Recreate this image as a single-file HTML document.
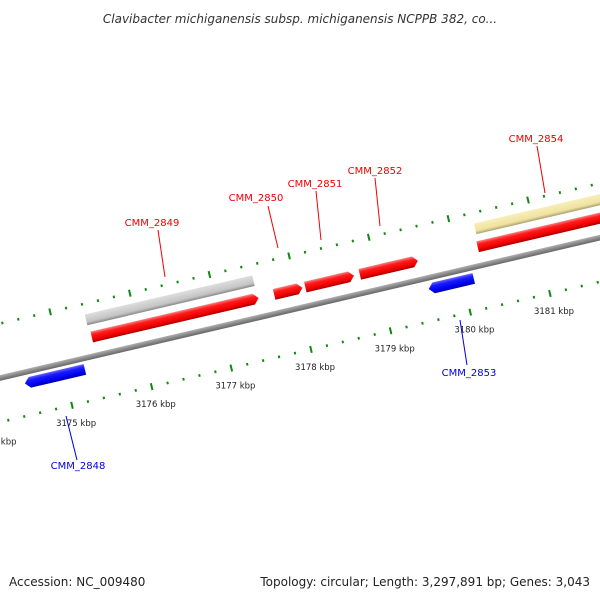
<!DOCTYPE html>
<html><head><meta charset="utf-8"><style>
html,body{margin:0;padding:0;background:#fff;}
svg{display:block;font-family:"DejaVu Sans","Liberation Sans",sans-serif;}
</style></head><body>
<svg id="map" width="600" height="600" viewBox="0 0 600 600" xmlns="http://www.w3.org/2000/svg">
<defs>
<linearGradient id="gRed" x1="0" y1="0" x2="0" y2="1"><stop offset="0" stop-color="#ff8080"/><stop offset="0.3" stop-color="#ff1a1a"/><stop offset="0.75" stop-color="#ee0000"/><stop offset="1" stop-color="#a00000"/></linearGradient>
<linearGradient id="gBlue" x1="0" y1="0" x2="0" y2="1"><stop offset="0" stop-color="#6666ff"/><stop offset="0.3" stop-color="#1a1aff"/><stop offset="0.75" stop-color="#0000ee"/><stop offset="1" stop-color="#0000a0"/></linearGradient>
<linearGradient id="gGray" x1="0" y1="0" x2="0" y2="1"><stop offset="0" stop-color="#dedede"/><stop offset="0.7" stop-color="#c4c4c4"/><stop offset="1" stop-color="#888"/></linearGradient>
<linearGradient id="gYel" x1="0" y1="0" x2="0" y2="1"><stop offset="0" stop-color="#f8eeb8"/><stop offset="0.7" stop-color="#efe2a0"/><stop offset="1" stop-color="#a89f70"/></linearGradient>
<linearGradient id="gBack" x1="0" y1="0" x2="0" y2="1"><stop offset="0" stop-color="#b0b0b0"/><stop offset="0.5" stop-color="#8a8a8a"/><stop offset="1" stop-color="#666"/></linearGradient>
</defs>
<text x="300" y="23" text-anchor="middle" font-size="12" font-style="italic" fill="#333">Clavibacter michiganensis subsp. michiganensis NCPPB 382, co...</text>
<g id="track" transform="translate(0,378) rotate(-13.17)"></g>
<g id="labels"></g>
<text x="9" y="586" font-size="12" fill="#222">Accession: NC_009480</text>
<text x="590" y="586" text-anchor="end" font-size="12" fill="#222">Topology: circular; Length: 3,297,891 bp; Genes: 3,043</text>
</svg>
<script>
const geneNames = ["CMM_2848","CMM_2849","CMM_2849","CMM_2850","CMM_2851","CMM_2852","CMM_2853","CMM_2854","CMM_2854"];
const geneStart = [3174.50,3175.425,3175.405,3177.715,3178.106,3178.79,3179.57,3180.27,3180.29];
const geneEnd   = [3175.253,3177.52,3177.507,3178.07,3178.717,3179.52,3180.135,3182.5,3182.5];
const geneStrand = [-1,1,0,1,1,1,-1,1,0];
const geneKind = ["cds","cds","gene","cds","cds","cds","cds","cds","gene2"];
const tickKbp = [3174,3175,3176,3177,3178,3179,3180,3181,3182];
const tickLabels = ["3174 kbp","3175 kbp","3176 kbp","3177 kbp","3178 kbp","3179 kbp","3180 kbp","3181 kbp","3182 kbp"];

const NS="http://www.w3.org/2000/svg";
const ang=13.17*Math.PI/180, C=Math.cos(ang), S=Math.sin(ang);
function xU(k){return 63.9+(k-3175)*81.8;}
function toScreen(u,v){return [u*C+v*S, 378-u*S+v*C];}
const track=document.getElementById('track'), labels=document.getElementById('labels');
function mk(tag,attrs,parent){const e=document.createElementNS(NS,tag);for(const k in attrs)e.setAttribute(k,attrs[k]);parent.appendChild(e);return e;}

// ticks
for(let k=3173.6;k<3183;k+=0.2){
  const kk=Math.round(k*5)/5; const u=xU(kk); const major=Math.abs(kk-Math.round(kk))<1e-6;
  [-53,43].forEach(v=>{
    const t=mk('line',{x1:u,x2:u,y1:v-(major?3.5:1.3),y2:v+(major?3.5:1.3),stroke:'#118811','stroke-width':major?2:2},track);
    
    
  });
}
tickKbp.forEach((k,i)=>{
  const p=toScreen(xU(k),61);
  const t=mk('text',{x:p[0],y:p[1]+3,'text-anchor':'middle','font-size':'8.5',fill:'#222'},labels);
  t.textContent=tickLabels[i];
  
  
});

// backbone
const bb=mk('rect',{x:-50,y:-2.8,width:800,height:5.6,fill:'url(#gBack)'},track);



// genes
geneNames.forEach((n,i)=>{
  const u1=xU(geneStart[i]), u2=xU(geneEnd[i]); const h=5.5;
  let vc, fill, pts;
  if(geneKind[i]==='gene'||geneKind[i]==='gene2'){vc=-37;fill=geneKind[i]==='gene'?'url(#gGray)':'url(#gYel)';
    pts=[[u1,vc-h],[u2,vc-h],[u2,vc+h],[u1,vc+h]];}
  else if(geneStrand[i]>0){vc=-19;fill='url(#gRed)';
    pts=[[u1,vc-h],[u2-5,vc-h],[u2,vc],[u2-5,vc+h],[u1,vc+h]];}
  else {vc=11;fill='url(#gBlue)';
    pts=[[u1+5,vc-h],[u2,vc-h],[u2,vc+h],[u1+5,vc+h],[u1,vc]];}
  const p=mk('polygon',{points:pts.map(a=>a.join(',')).join(' '),fill:fill},track);
  
  
});

// gene labels
const labelPos=[["CMM_2848",78,469,"#0000dd",66,416,77,460],["CMM_2849",152,226,"#ee0000",158,230,165,277],["CMM_2850",256,201,"#ee0000",268,206,278,248],
["CMM_2851",315,187,"#ee0000",316,191,321,240],["CMM_2852",375,174,"#ee0000",375,178,380,226],["CMM_2853",469,376,"#0000dd",460,320,467,365],["CMM_2854",536,142,"#ee0000",537,146,545,193]];
labelPos.forEach(l=>{
  const ln=mk('line',{x1:l[4],y1:l[5],x2:l[6],y2:l[7],stroke:l[3],'stroke-width':1},labels);
  
  
  const t=mk('text',{x:l[1],y:l[2],'text-anchor':'middle','font-size':'10',fill:l[3]},labels);
  t.textContent=l[0];
  
  
});
</script>
</body></html>
